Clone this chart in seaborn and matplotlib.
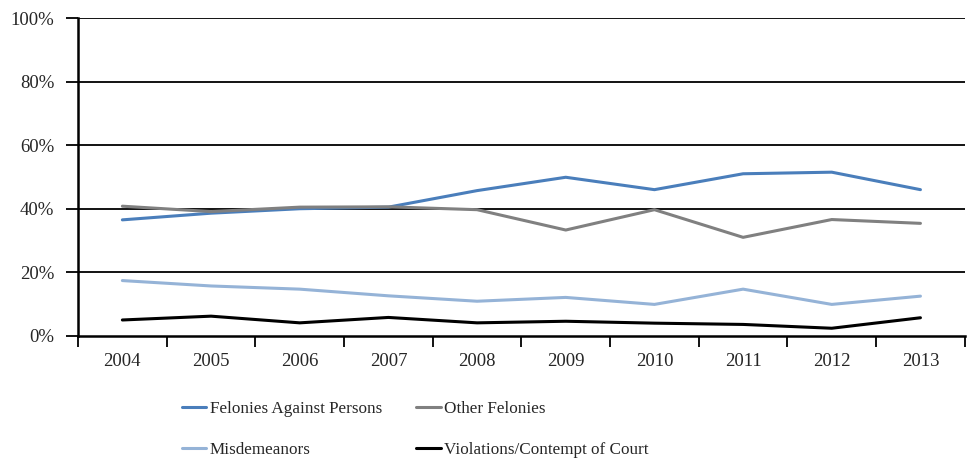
import matplotlib
matplotlib.use("Agg")
import matplotlib.pyplot as plt
import seaborn as sns
import pandas as pd
from matplotlib.ticker import FixedLocator, PercentFormatter

years = ["2004", "2005", "2006", "2007", "2008", "2009", "2010", "2011", "2012", "2013"]
felonies_persons = [36.5, 38.6, 40.0, 40.5, 45.7, 49.9, 46.0, 51.0, 51.5, 46.0]
other_felonies = [40.8, 39.1, 40.5, 40.6, 39.7, 33.3, 39.7, 31.0, 36.6, 35.4]
misdemeanors = [17.4, 15.7, 14.7, 12.6, 10.9, 12.1, 9.9, 14.7, 9.9, 12.5]
violations = [5.0, 6.2, 4.1, 5.8, 4.1, 4.6, 4.0, 3.6, 2.4, 5.7]
series_names = ["Felonies Against Persons", "Other Felonies", "Misdemeanors",
                "Violations/Contempt of Court"]
colors = ["#4A7EBB", "#808080", "#95B3D7", "#000000"]

frames = []
for name, vals in zip(series_names, [felonies_persons, other_felonies, misdemeanors, violations]):
    frames.append(pd.DataFrame({"Year": years, "Value": vals, "Series": name}))
df = pd.concat(frames, ignore_index=True)

sns.set_style("white")
plt.rcParams["font.family"] = ["Liberation Serif", "DejaVu Serif"]

fig = plt.figure(figsize=(9.67, 4.62), dpi=100)
ax = fig.add_axes([0.0807, 0.273, 0.917, 0.688])

sns.lineplot(data=df, x="Year", y="Value", hue="Series", hue_order=series_names,
             palette=colors, linewidth=2.2, ax=ax, legend=True, sort=False)

ax.set_xlim(-0.5, 9.5)
ax.set_ylim(0, 100)
ax.set_yticks([0, 20, 40, 60, 80, 100])
ax.yaxis.set_major_formatter(PercentFormatter(decimals=0))
ax.set_xticks(range(10))
ax.set_xticklabels(years)
ax.xaxis.set_minor_locator(FixedLocator([i - 0.5 for i in range(11)]))
ax.tick_params(bottom=True, left=True, which="both")
ax.tick_params(axis="x", which="major", length=0, pad=12, labelsize=13.5)
ax.tick_params(axis="x", which="minor", length=8, width=1.3, color="black", direction="out")
ax.tick_params(axis="y", which="major", length=9, width=1.3, color="black",
               direction="out", pad=8, labelsize=13.5)
for y in [20, 40, 60, 80, 100]:
    ax.axhline(y, color="black", linewidth=1.3, zorder=0)
for s in ["top", "right"]:
    ax.spines[s].set_visible(False)
for s in ["left", "bottom"]:
    ax.spines[s].set_visible(True)
    ax.spines[s].set_color("black")
    ax.spines[s].set_linewidth(1.8)
ax.set_xlabel("")
ax.set_ylabel("")

handles, labels = ax.get_legend_handles_labels()
ax.get_legend().remove()
order = [0, 2, 1, 3]
fig.legend([handles[i] for i in order], [labels[i] for i in order], ncol=2,
           loc="lower left", bbox_to_anchor=(0.172, -0.025),
           frameon=False, fontsize=12.3, handlelength=1.45, handletextpad=0.2,
           columnspacing=2.0, labelspacing=1.5)

fig.savefig("out.png", dpi=100)
